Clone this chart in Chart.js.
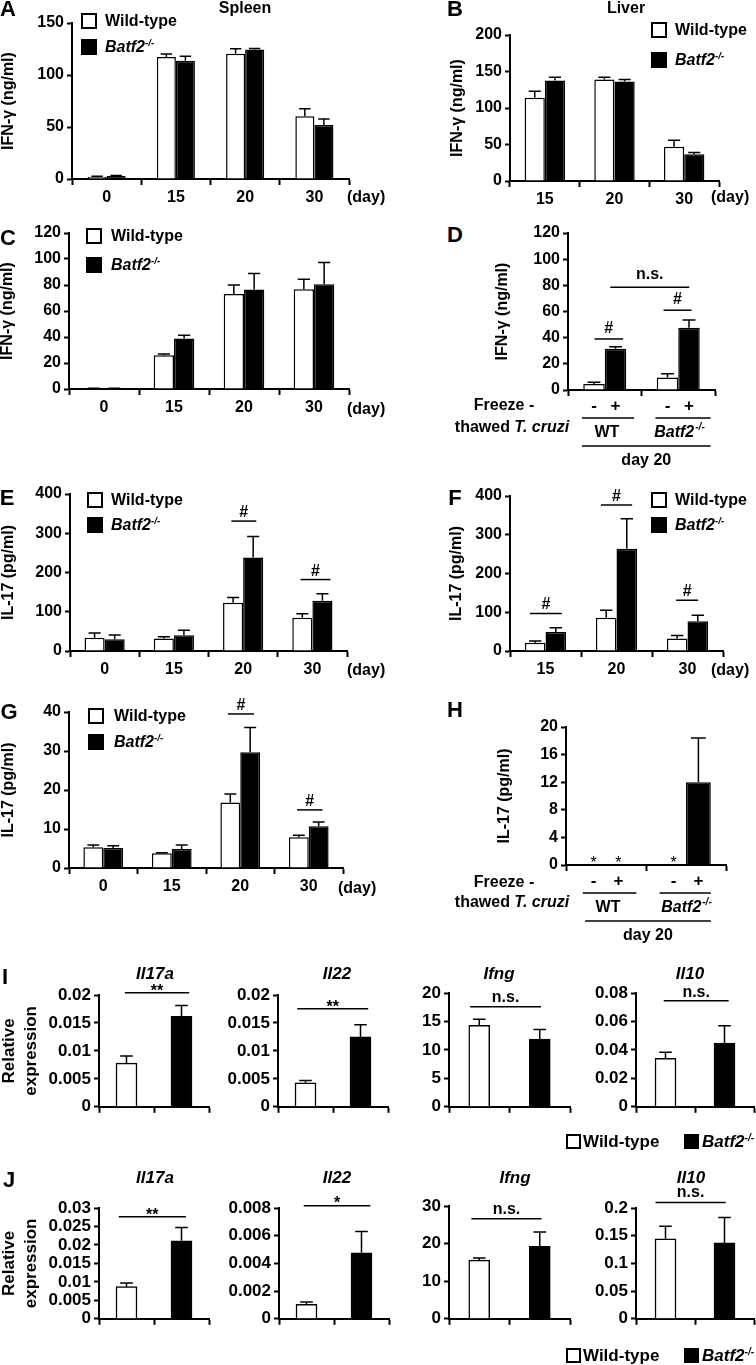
<!DOCTYPE html>
<html>
<head>
<meta charset="utf-8">
<script src="https://cdn.jsdelivr.net/npm/chart.js@4.4.0/dist/chart.umd.min.js"></script>
<style>
  body { margin: 0; background: #fff; }
  #fig { position: relative; width: 756px; height: 1365px; overflow: hidden;
         font-family: 'Liberation Sans', Arial, Helvetica, sans-serif; font-weight: bold; color: #000; }
  #fig canvas { position: absolute; }
  .t  { position: absolute; white-space: nowrap; line-height: 1; transform: translate(-50%, -50%); }
  .tl { position: absolute; white-space: nowrap; line-height: 1; transform: translate(0, -50%); }
  .box { position: absolute; box-sizing: border-box; border: 2px solid #000; }
  sup { font-size: 0.6em; vertical-align: 0; position: relative; top: -0.6em; font-style: italic; }
</style>
</head>
<body>
<div id="fig"></div>
<script>
/* ---- values ---- */
const daysAll = ['0', '15', '20', '30'];
const daysLiver = ['15', '20', '30'];
const strains = ['WT', 'Batf2'];
const genotypes = ['Wild-type', 'Batf2-/-'];

// A: spleen IFN-g (ng/ml)
const aWT = [2, 117.3, 120.5, 60.3];
const aWTErr = [2.6, 120.2, 125.3, 67.6];
const aKO = [2.8, 113.8, 124.4, 52];
const aKOErr = [3.3, 118, 125.5, 57.7];
// B: liver IFN-g (ng/ml)
const bWT = [114, 139, 46.8];
const bWTErr = [123, 142, 55.9];
const bKO = [137.7, 136.4, 36.8];
const bKOErr = [142, 139, 39];
// C: IFN-g (ng/ml)
const cWT = [0.5, 26, 73.1, 76.7];
const cWTErr = [0.6, 27, 80, 84.4];
const cKO = [0.5, 38.9, 76.5, 80.5];
const cKOErr = [0.6, 41.4, 88.8, 97.3];
// D: day 20, freeze-thawed T. cruzi (-) / (+)
const dMinus = [4.5, 9.5];
const dMinusErr = [6, 12.5];
const dPlus = [31.5, 47.5];
const dPlusErr = [33, 53.5];
// E: IL-17 (pg/ml)
const eWT = [34, 32, 123, 85];
const eWTErr = [46, 36, 136, 95];
const eKO = [30, 40, 238, 128];
const eKOErr = [41, 53, 292, 146];
// F: IL-17 (pg/ml)
const fWT = [21, 86, 32];
const fWTErr = [26, 105, 40];
const fKO = [49, 264, 77];
const fKOErr = [60, 341, 92];
// G: IL-17 (pg/ml)
const gWT = [5.3, 3.8, 16.8, 7.9];
const gWTErr = [5.9, 3.9, 19, 8.4];
const gKO = [5.1, 4.9, 29.7, 10.7];
const gKOErr = [5.7, 5.9, 36, 11.8];
// H: IL-17 (pg/ml), * = not detected
const hMinus = [0, 0];
const hPlus = [0, 12];
const hPlusErr = [null, 18.4];
const hMinusND = [true, true];
const hPlusND = [true, false];
// I: relative expression (WT, Batf2-/-)
const iIl17a = [0.0078, 0.0162], iIl17aErr = [0.0091, 0.0181];
const iIl22 = [0.0043, 0.0125], iIl22Err = [0.0047, 0.0147];
const iIfng = [14.3, 11.9], iIfngErr = [15.4, 13.6];
const iIl10 = [0.034, 0.0448], iIl10Err = [0.0384, 0.057];
// J: relative expression (WT, Batf2-/-)
const jIl17a = [0.0087, 0.0211], jIl17aErr = [0.0097, 0.0247];
const jIl22 = [0.00105, 0.00477], jIl22Err = [0.00122, 0.0063];
const jIfng = [15.6, 19.3], jIfngErr = [16.2, 23.1];
const jIl10 = [0.1444, 0.137], jIl10Err = [0.167, 0.183];

const FONT = "'Liberation Sans', Arial, Helvetica, sans-serif";
Chart.defaults.font.family = FONT;
Chart.defaults.font.weight = 'bold';
Chart.defaults.font.size = 16;
Chart.defaults.color = '#000';

const fig = document.getElementById('fig');
const WHITE = '#fff', BLACK = '#000';

/* --- plugins --- */
const errPlugin = {
  id: 'errbars',
  afterDatasetsDraw(chart) {
    const ctx = chart.ctx, ys = chart.scales.y;
    ctx.save();
    ctx.strokeStyle = '#000';
    ctx.lineWidth = 1.5;
    chart.data.datasets.forEach((ds, j) => {
      if (!ds.err) return;
      chart.getDatasetMeta(j).data.forEach((bar, i) => {
        const e = ds.err[i];
        if (e == null || e <= ds.data[i]) return;
        const yt = ys.getPixelForValue(e);
        const cap = bar.width * 0.3;
        ctx.beginPath();
        ctx.moveTo(bar.x, bar.y);
        ctx.lineTo(bar.x, yt);
        ctx.moveTo(bar.x - cap, yt);
        ctx.lineTo(bar.x + cap, yt);
        ctx.stroke();
      });
    });
    ctx.restore();
  }
};

const sigPlugin = {
  id: 'sig',
  afterDraw(chart) {
    const ctx = chart.ctx, xs = chart.scales.x, ys = chart.scales.y;
    ctx.save();
    ctx.strokeStyle = '#000';
    ctx.fillStyle = '#000';
    ctx.lineWidth = 1.5;
    ctx.textAlign = 'center';
    ctx.textBaseline = 'alphabetic';
    // not-detected stars
    chart.data.datasets.forEach((ds, j) => {
      if (!ds.nd) return;
      ctx.font = `16px ${FONT}`;
      chart.getDatasetMeta(j).data.forEach((bar, i) => {
        if (ds.nd[i]) ctx.fillText('*', bar.x, chart.chartArea.bottom + 3);
      });
    });
    (chart.options.plugins.sig || []).forEach(s => {
      const x1 = xs.getPixelForValue(s.from), x2 = xs.getPixelForValue(s.to);
      const y = ys.getPixelForValue(s.v);
      ctx.beginPath();
      ctx.moveTo(x1, y);
      ctx.lineTo(x2, y);
      ctx.stroke();
      let gap = s.gap;
      if (gap == null) gap = s.t === '#' ? 4 : (s.t.startsWith('*') ? -3 : 5);
      ctx.font = `bold 16px ${FONT}`;
      ctx.fillText(s.t, (x1 + x2) / 2, y - gap);
    });
    ctx.restore();
  }
};

function drawKO(ctx, cx, y, size) {
  ctx.save();
  ctx.textAlign = 'left';
  ctx.font = `italic bold ${size}px ${FONT}`;
  const w1 = ctx.measureText('Batf2').width;
  ctx.font = `italic bold ${Math.round(size * 0.6)}px ${FONT}`;
  const w2 = ctx.measureText('-/-').width;
  const x0 = cx - (w1 + w2) / 2;
  ctx.font = `italic bold ${size}px ${FONT}`;
  ctx.fillText('Batf2', x0, y);
  ctx.font = `italic bold ${Math.round(size * 0.6)}px ${FONT}`;
  ctx.fillText('-/-', x0 + w1 + 1, y - size * 0.35);
  ctx.restore();
}

const freezePlugin = {
  id: 'freeze',
  afterDraw(chart) {
    const a = chart.options.plugins.freeze;
    if (!a) return;
    const ctx = chart.ctx, xs = chart.scales.x;
    const y0 = chart.chartArea.bottom;
    const hline = (x1, x2, y) => { ctx.beginPath(); ctx.moveTo(x1, y); ctx.lineTo(x2, y); ctx.stroke(); };
    ctx.save();
    ctx.fillStyle = '#000';
    ctx.strokeStyle = '#000';
    ctx.lineWidth = 1.5;
    ctx.textAlign = 'center';
    ctx.textBaseline = 'middle';
    ctx.font = `bold 17px ${FONT}`;
    chart.data.datasets.forEach((ds, j) => {
      chart.getDatasetMeta(j).data.forEach(bar => ctx.fillText(ds.label, bar.x, y0 + 16));
    });
    chart.data.labels.forEach((lab, i) => {
      hline(xs.getPixelForValue(i + a.under[i][0]), xs.getPixelForValue(i + a.under[i][1]), y0 + 28);
      const cx = xs.getPixelForValue(i + a.name[i]);
      if (lab === 'Batf2') drawKO(ctx, cx, y0 + 43, 16);
      else { ctx.font = `bold 16px ${FONT}`; ctx.fillText(lab, cx, y0 + 43); }
    });
    const s1 = xs.getPixelForValue(a.span[0]), s2 = xs.getPixelForValue(a.span[1]);
    hline(s1, s2, y0 + 56);
    ctx.font = `bold 16px ${FONT}`;
    ctx.fillText('day 20', (s1 + s2) / 2, y0 + 71);
    ctx.restore();
  }
};

/* --- panel builder --- */
function fmt(v) { return String(+Number(v).toFixed(6)); }

function makePanel(p) {
  const titleSize = p.titleSize || 16, titleLH = p.titleLH || 1.2;
  const tickSize = p.tickSize || 16;
  const padTop = 32, padRight = 8;
  const xh = p.xh || 30;
  const cl = Math.round(p.yTitle ? p.titleX - titleSize * titleLH / 2 : p.axisX - 72);
  const ct = Math.round(p.top - padTop);
  const w = Math.round(p.right + padRight - cl);
  const h = Math.round(p.bottom + xh - ct);
  const yw = p.axisX - cl;

  const cv = document.createElement('canvas');
  cv.width = w; cv.height = h;
  cv.style.left = cl + 'px'; cv.style.top = ct + 'px';
  cv.style.width = w + 'px'; cv.style.height = h + 'px';
  fig.appendChild(cv);

  const datasets = p.sets.map(s => ({
    label: s.label || '',
    data: s.data,
    err: s.err,
    nd: s.nd,
    backgroundColor: s.fill,
    borderColor: '#000',
    borderWidth: 1.5,
    categoryPercentage: p.cat || 0.58,
    barPercentage: 1,
    barThickness: p.thick
  }));

  new Chart(cv, {
    type: 'bar',
    data: { labels: p.labels, datasets },
    options: {
      responsive: false,
      animation: false,
      devicePixelRatio: 1,
      layout: { padding: { top: padTop, right: padRight, left: 0, bottom: 0 } },
      plugins: {
        legend: { display: false },
        tooltip: { enabled: false },
        sig: p.sig,
        freeze: p.freeze
      },
      scales: {
        x: {
          offset: true,
          grid: { display: true, offset: true, drawOnChartArea: false, drawTicks: true,
                  tickLength: 6, tickWidth: 2, tickColor: '#000' },
          border: { display: true, color: '#000', width: 2 },
          ticks: { display: p.showX !== false, padding: 3, font: { size: 16 }, autoSkip: false, maxRotation: 0 },
          afterFit: s => { s.height = xh; }
        },
        y: {
          min: 0, max: p.max,
          ticks: { stepSize: p.step, padding: 3, autoSkip: false, font: { size: tickSize }, callback: v => fmt(v) },
          grid: { display: true, drawOnChartArea: false, tickLength: 5, tickWidth: 2, tickColor: '#000' },
          border: { display: true, color: '#000', width: 2 },
          title: { display: !!p.yTitle, text: p.yTitle, padding: 0, color: '#000',
                   font: { size: titleSize, weight: 'bold', lineHeight: titleLH } },
          afterFit: s => { s.width = yw; }
        }
      }
    },
    plugins: [errPlugin, sigPlugin, freezePlugin]
  });
}

/* --- html text helpers --- */
function txt(html, x, y, size, opts = {}) {
  const d = document.createElement('div');
  d.className = opts.left ? 'tl' : 't';
  d.style.left = x + 'px';
  d.style.top = y + 'px';
  d.style.fontSize = size + 'px';
  if (opts.italic) d.style.fontStyle = 'italic';
  d.innerHTML = html;
  fig.appendChild(d);
}
function box(x, y, s, fill) {
  const d = document.createElement('div');
  d.className = 'box';
  Object.assign(d.style, { left: x + 'px', top: y + 'px', width: s + 'px', height: s + 'px', background: fill });
  fig.appendChild(d);
}
const KO_HTML = '<i>Batf2</i><sup>-/-</sup>';
function legendV(x, y, gap, tx) {
  box(x, y, 16, WHITE);
  txt(genotypes[0], tx, y + 8, 16, { left: true });
  box(x, y + gap, 16, BLACK);
  txt(KO_HTML, tx, y + gap + 8, 16, { left: true });
}
function legendH(y) {
  box(566, y, 15, WHITE);
  txt(genotypes[0], 583, y + 7, 17, { left: true });
  box(684, y, 15, BLACK);
  txt(KO_HTML, 702, y + 7, 17, { left: true });
}

/* --- panels A-H --- */
const IFN = 'IFN-γ (ng/ml)', IL17 = 'IL-17 (pg/ml)';
const pair = (wt, wtE, ko, koE) => [
  { data: wt, err: wtE, fill: WHITE },
  { data: ko, err: koE, fill: BLACK }
];

makePanel({ axisX: 72, right: 349, top: 23, bottom: 179, max: 150, step: 50, labels: daysAll,
  sets: pair(aWT, aWTErr, aKO, aKOErr), yTitle: IFN, titleX: 9, cat: 0.55 });
makePanel({ axisX: 510, right: 719, top: 35, bottom: 181, max: 200, step: 50, labels: daysLiver,
  sets: pair(bWT, bWTErr, bKO, bKOErr), yTitle: IFN, titleX: 458 });
makePanel({ axisX: 69, right: 349, top: 233, bottom: 389, max: 120, step: 20, labels: daysAll,
  sets: pair(cWT, cWTErr, cKO, cKOErr), yTitle: IFN, titleX: 8 });
makePanel({ axisX: 568, right: 715, top: 233, bottom: 390, max: 120, step: 20, labels: strains,
  sets: [{ label: '-', data: dMinus, err: dMinusErr, fill: WHITE }, { label: '+', data: dPlus, err: dPlusErr, fill: BLACK }],
  yTitle: IFN, titleX: 503, showX: false, xh: 85, cat: 0.585,
  sig: [{ from: -0.14, to: 0.25, v: 39, t: '#', gap: 6 }, { from: 0.8, to: 1.18, v: 61, t: '#', gap: 6 },
        { from: 0.075, to: 1.15, v: 78.5, t: 'n.s.', gap: 8 }],
  freeze: { under: [[-0.31, 0.40], [-0.31, 0.44]], name: [0.03, 0.01], span: [-0.31, 1.44] } });
makePanel({ axisX: 70, right: 347, top: 494, bottom: 651, max: 400, step: 100, labels: daysAll,
  sets: pair(eWT, eWTErr, eKO, eKOErr), yTitle: IL17, titleX: 9,
  sig: [{ from: 1.83, to: 2.19, v: 331, t: '#' }, { from: 2.83, to: 3.26, v: 182, t: '#' }] });
makePanel({ axisX: 510, right: 723, top: 496, bottom: 651, max: 400, step: 100, labels: daysLiver,
  sets: pair(fWT, fWTErr, fKO, fKOErr), yTitle: IL17, titleX: 457,
  sig: [{ from: -0.22, to: 0.23, v: 97, t: '#' }, { from: 0.78, to: 1.22, v: 377, t: '#' },
        { from: 1.84, to: 2.15, v: 131, t: '#' }] });
makePanel({ axisX: 69, right: 343, top: 712, bottom: 868, max: 40, step: 10, labels: daysAll,
  sets: pair(gWT, gWTErr, gKO, gKOErr), yTitle: IL17, titleX: 9,
  sig: [{ from: 1.82, to: 2.2, v: 39.5, t: '#' }, { from: 2.83, to: 3.2, v: 14.9, t: '#' }] });
makePanel({ axisX: 566, right: 726, top: 727, bottom: 865, max: 20, step: 4, labels: strains,
  sets: [{ label: '-', data: hMinus, nd: hMinusND, fill: WHITE }, { label: '+', data: hPlus, err: hPlusErr, nd: hPlusND, fill: BLACK }],
  yTitle: IL17, titleX: 505, showX: false, xh: 85, cat: 0.62,
  freeze: { under: [[-0.29, 0.38], [-0.33, 0.31]], name: [0.025, 0], span: [-0.26, 1.31] } });

/* --- panels I and J --- */
const REL = ['Relative', 'expression'];
const single = (v, e) => [{ data: v, err: e, fill: [WHITE, BLACK] }];
const expr = { labels: genotypes, showX: false, xh: 10, tickSize: 17, thick: 21 };

makePanel({ ...expr, axisX: 99, right: 209, top: 995, bottom: 1110, max: 0.02, step: 0.005,
  sets: single(iIl17a, iIl17aErr), yTitle: REL, titleX: 9, titleSize: 17, titleLH: 1.3,
  sig: [{ from: -0.03, to: 1.14, v: 0.0204, t: '**' }] });
makePanel({ ...expr, axisX: 278, right: 388, top: 995, bottom: 1110, max: 0.02, step: 0.005,
  sets: single(iIl22, iIl22Err), sig: [{ from: -0.15, to: 1.14, v: 0.01755, t: '**' }] });
makePanel({ ...expr, axisX: 449, right: 570, top: 993, bottom: 1110, max: 20, step: 5,
  sets: single(iIfng, iIfngErr), sig: [{ from: -0.15, to: 1.02, v: 17.6, t: 'n.s.' }] });
makePanel({ ...expr, axisX: 636, right: 754, top: 993, bottom: 1110, max: 0.08, step: 0.02,
  sets: single(iIl10, iIl10Err), sig: [{ from: -0.03, to: 1.07, v: 0.0745, t: 'n.s.', gap: 4 }] });

makePanel({ ...expr, axisX: 99, right: 209, top: 1208, bottom: 1322, max: 0.03, step: 0.005,
  sets: single(jIl17a, jIl17aErr), yTitle: REL, titleX: 9, titleSize: 17, titleLH: 1.3,
  sig: [{ from: -0.14, to: 1.08, v: 0.0276, t: '**' }] });
makePanel({ ...expr, axisX: 279, right: 389, top: 1208, bottom: 1322, max: 0.008, step: 0.002,
  sets: single(jIl22, jIl22Err), sig: [{ from: -0.05, to: 1.16, v: 0.00816, t: '*', gap: -2 }] });
makePanel({ ...expr, axisX: 449, right: 570, top: 1206, bottom: 1322, max: 30, step: 10,
  sets: single(jIfng, jIfngErr), sig: [{ from: -0.13, to: 1.03, v: 26.6, t: 'n.s.' }] });
makePanel({ ...expr, axisX: 636, right: 754, top: 1208, bottom: 1322, max: 0.2, step: 0.05,
  sets: single(jIl10, jIl10Err), sig: [{ from: -0.17, to: 1.02, v: 0.21, t: 'n.s.' }] });

/* --- letters, titles, legends, axis notes --- */
[['A', 8, 9], ['B', 455, 9], ['C', 8, 238], ['D', 455, 235], ['E', 7, 498], ['F', 455, 498],
 ['G', 9, 712], ['H', 455, 710], ['I', 5, 977], ['J', 9, 1180]].forEach(([l, x, y]) => txt(l, x, y, 22));

txt('Spleen', 245, 8, 16);
txt('Liver', 626, 8, 16);

[[347, 197], [711, 197], [347, 409], [347, 670], [711, 670], [338, 888]].forEach(([x, y]) => txt('(day)', x, y, 16, { left: true }));

[[405, 427], [882, 902]].forEach(([y1, y2]) => {
  txt('Freeze -', 504, y1, 16);
  txt('thawed <i>T. cruzi</i>', 512, y2, 16);
});

legendV(81, 13, 26, 105);
legendV(651, 22, 30, 675);
legendV(86, 228, 29, 111);
legendV(87, 492, 25, 111);
legendV(651, 492, 25, 675);
legendV(88, 708, 26, 114);

const geneTitles = ['Il17a', 'Il22', 'Ifng', 'Il10'];
[155, 337, 499, 690].forEach((x, k) => txt(geneTitles[k], x, 973, 17, { italic: true }));
[155, 337, 515, 691].forEach((x, k) => txt(geneTitles[k], x, 1177, 17, { italic: true }));

legendH(1134);
legendH(1348);
</script>
</body>
</html>
